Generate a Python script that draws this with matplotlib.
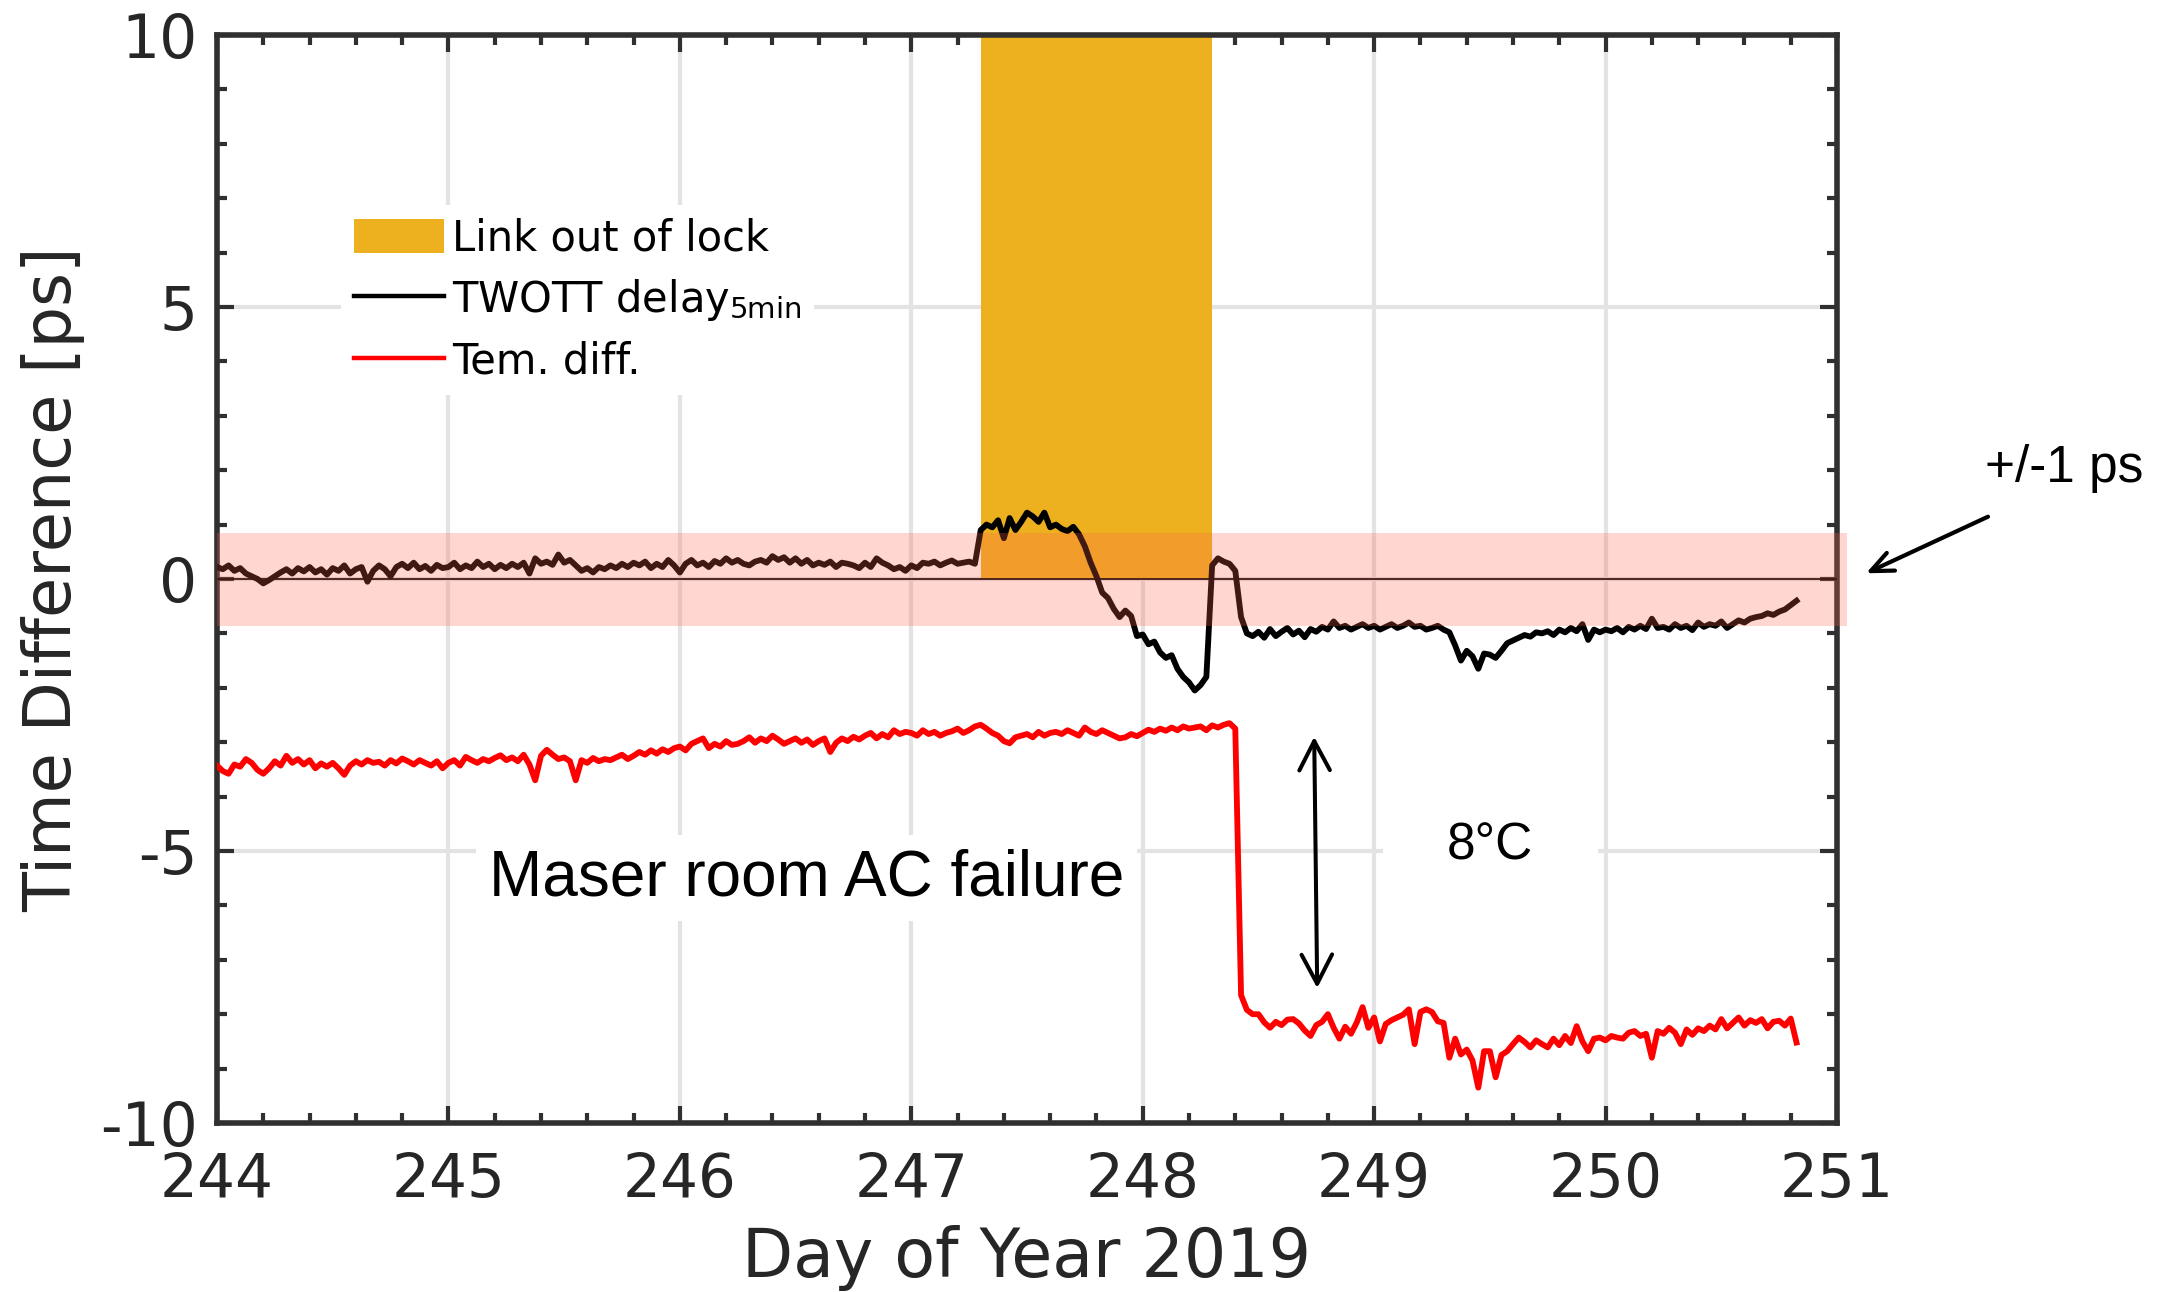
import numpy as np
import matplotlib
matplotlib.use("Agg")
import matplotlib.pyplot as plt
from matplotlib.patches import Rectangle, FancyArrowPatch
from matplotlib.lines import Line2D
from matplotlib.ticker import MultipleLocator, FixedLocator

plt.rcParams['font.family'] = 'DejaVu Sans'
plt.rcParams['axes.unicode_minus'] = False
plt.rcParams['mathtext.fontset'] = 'dejavusans'

# Sampling of the decimated series (day of year, 0.025 d step)
T0 = 244.0
DT = 0.025

# TWOTT delay, 5-min averages [ps]
twott = [
    0.22, 0.18, 0.25, 0.15, 0.20, 0.10, 0.05, 0.00, -0.08, -0.02,
    0.05, 0.12, 0.18, 0.10, 0.20, 0.14, 0.22, 0.12, 0.18, 0.08,
    0.20, 0.15, 0.25, 0.10, 0.18, 0.22, -0.05, 0.15, 0.25, 0.18,
    0.05, 0.22, 0.28, 0.20, 0.30, 0.18, 0.24, 0.15, 0.26, 0.20,
    0.22, 0.30, 0.18, 0.25, 0.20, 0.32, 0.22, 0.28, 0.18, 0.26,
    0.20, 0.28, 0.22, 0.30, 0.10, 0.38, 0.28, 0.32, 0.26, 0.45,
    0.30, 0.35, 0.25, 0.15, 0.20, 0.12, 0.22, 0.18, 0.25, 0.20,
    0.28, 0.22, 0.30, 0.25, 0.32, 0.20, 0.28, 0.22, 0.35, 0.25,
    0.12, 0.28, 0.35, 0.25, 0.30, 0.22, 0.33, 0.28, 0.38, 0.30,
    0.35, 0.28, 0.25, 0.32, 0.35, 0.30, 0.42, 0.35, 0.40, 0.30,
    0.38, 0.28, 0.35, 0.25, 0.30, 0.26, 0.32, 0.22, 0.30, 0.28,
    0.25, 0.20, 0.30, 0.22, 0.38, 0.30, 0.25, 0.18, 0.22, 0.15,
    0.25, 0.20, 0.30, 0.28, 0.32, 0.25, 0.30, 0.34, 0.28, 0.30,
    0.32, 0.28, 0.90, 1.00, 0.95, 1.08, 0.75, 1.12, 0.90, 1.05,
    1.22, 1.15, 1.05, 1.22, 0.95, 1.00, 0.92, 0.88, 0.96, 0.82,
    0.60, 0.30, 0.05, -0.25, -0.35, -0.55, -0.70, -0.58, -0.68, -1.05,
    -1.02, -1.20, -1.15, -1.35, -1.45, -1.40, -1.65, -1.80, -1.90, -2.05,
    -1.95, -1.80, 0.25, 0.38, 0.32, 0.28, 0.15, -0.70, -1.00, -1.05,
    -0.97, -1.08, -0.92, -1.05, -0.97, -0.90, -1.02, -0.95, -1.07, -0.92,
    -0.97, -0.88, -0.93, -0.78, -0.90, -0.86, -0.93, -0.88, -0.83, -0.90,
    -0.86, -0.93, -0.88, -0.83, -0.90, -0.86, -0.80, -0.88, -0.86, -0.93,
    -0.90, -0.86, -0.93, -0.98, -1.22, -1.50, -1.32, -1.42, -1.65, -1.37,
    -1.39, -1.45, -1.32, -1.18, -1.13, -1.08, -1.03, -1.06, -0.98, -1.00,
    -0.96, -1.03, -0.93, -0.98, -0.90, -0.96, -0.83, -1.12, -0.93, -0.98,
    -0.93, -0.96, -0.90, -0.98, -0.88, -0.93, -0.86, -0.92, -0.73, -0.90,
    -0.88, -0.93, -0.83, -0.90, -0.86, -0.94, -0.80, -0.88, -0.83, -0.86,
    -0.78, -0.90, -0.83, -0.76, -0.80, -0.73, -0.70, -0.68, -0.63, -0.66,
    -0.60, -0.56, -0.48, -0.40,
]

# Temperature difference between rooms [degC]
temdiff = [
    -3.43, -3.53, -3.58, -3.41, -3.45, -3.31, -3.38, -3.51, -3.58, -3.48,
    -3.35, -3.43, -3.25, -3.38, -3.31, -3.41, -3.33, -3.48, -3.39, -3.45,
    -3.38, -3.48, -3.60, -3.43, -3.35, -3.41, -3.33, -3.38, -3.36, -3.43,
    -3.33, -3.39, -3.30, -3.35, -3.41, -3.33, -3.38, -3.43, -3.35, -3.48,
    -3.38, -3.33, -3.43, -3.27, -3.33, -3.38, -3.31, -3.35, -3.29, -3.24,
    -3.33, -3.28, -3.35, -3.23, -3.41, -3.70, -3.25, -3.14, -3.23, -3.31,
    -3.28, -3.35, -3.70, -3.33, -3.38, -3.29, -3.35, -3.31, -3.33, -3.28,
    -3.23, -3.31, -3.25, -3.18, -3.23, -3.15, -3.21, -3.13, -3.18, -3.11,
    -3.08, -3.15, -3.03, -2.98, -2.93, -3.11, -3.03, -3.08, -2.98, -3.05,
    -3.03, -2.98, -2.91, -3.01, -2.93, -2.98, -2.88, -2.95, -3.03, -2.98,
    -2.93, -3.01, -2.95, -3.05, -2.98, -2.93, -3.18, -3.01, -2.93, -2.98,
    -2.90, -2.95, -2.88, -2.83, -2.93, -2.85, -2.91, -2.78, -2.85, -2.81,
    -2.83, -2.88, -2.78, -2.85, -2.81, -2.88, -2.83, -2.80, -2.75, -2.83,
    -2.78, -2.71, -2.68, -2.75, -2.83, -2.88, -2.98, -3.02, -2.91, -2.88,
    -2.85, -2.91, -2.81, -2.88, -2.83, -2.81, -2.85, -2.78, -2.83, -2.88,
    -2.73, -2.81, -2.85, -2.78, -2.83, -2.88, -2.93, -2.91, -2.85, -2.89,
    -2.83, -2.77, -2.81, -2.75, -2.79, -2.73, -2.78, -2.71, -2.75, -2.73,
    -2.71, -2.78, -2.69, -2.73, -2.68, -2.65, -2.75, -7.65, -7.92, -8.00,
    -8.00, -8.15, -8.25, -8.14, -8.20, -8.10, -8.09, -8.17, -8.30, -8.40,
    -8.20, -8.14, -8.00, -8.25, -8.45, -8.23, -8.36, -8.15, -7.87, -8.25,
    -8.06, -8.50, -8.18, -8.11, -8.06, -8.01, -7.91, -8.55, -7.96, -7.91,
    -7.96, -8.13, -8.16, -8.80, -8.45, -8.74, -8.65, -8.85, -9.35, -8.68,
    -8.68, -9.16, -8.75, -8.68, -8.55, -8.43, -8.51, -8.61, -8.48, -8.55,
    -8.61, -8.45, -8.57, -8.40, -8.53, -8.22, -8.50, -8.68, -8.45, -8.43,
    -8.48, -8.40, -8.43, -8.45, -8.34, -8.31, -8.40, -8.36, -8.80, -8.31,
    -8.36, -8.25, -8.34, -8.55, -8.28, -8.38, -8.26, -8.31, -8.21, -8.28,
    -8.09, -8.26, -8.16, -8.06, -8.21, -8.11, -8.16, -8.09, -8.26, -8.14,
    -8.12, -8.21, -8.08, -8.52,
]

days = T0 + DT * np.arange(len(twott))

# Link out-of-lock interval and the +/-1 ps tolerance band
lock_start, lock_end, lock_top = 247.3, 248.3, 10.0
band_lo, band_hi = -0.86, 0.84

xticks = [244, 245, 246, 247, 248, 249, 250, 251]
yticks = [-10, -5, 0, 5, 10]
yticklabels = ['-10', '-5', '0', '5', '10']

legend_labels = ['Link out of lock', r'TWOTT delay$_{\mathregular{5min}}$', 'Tem. diff.']

W, H = 2171, 1292
fig = plt.figure(figsize=(W / 100, H / 100), dpi=100)
ax = fig.add_axes([217 / W, 1 - 1123 / H, 1620 / W, 1088 / H])
ax.set_xlim(244, 251)
ax.set_ylim(-10, 10)

ax.set_axisbelow(True)
ax.grid(True, which='major', color='#e3e3e3', lw=3)

ax.bar(lock_start, lock_top, width=lock_end - lock_start, align='edge',
       color='#EDB120', edgecolor='none', zorder=1.5)
ax.plot(days, twott, color='black', lw=4.2, zorder=3)
ax.plot(days, temdiff, color='#ff0000', lw=4.2, zorder=3)
ax.axhline(0, color='black', lw=1.3, zorder=3)

band = Rectangle((244, band_lo), 251.045 - 244, band_hi - band_lo,
                 facecolor=(1.0, 0.39, 0.30), alpha=0.26, edgecolor='none',
                 clip_on=False, zorder=4)
ax.add_patch(band)

spine_col = '#303030'
for s in ax.spines.values():
    s.set_linewidth(4)
    s.set_color(spine_col)

ax.xaxis.set_major_locator(FixedLocator(xticks))
ax.xaxis.set_minor_locator(MultipleLocator(0.2))
ax.yaxis.set_major_locator(FixedLocator(yticks))
ax.yaxis.set_minor_locator(MultipleLocator(1))
ax.set_yticklabels(yticklabels)
ax.tick_params(which='both', direction='in', top=True, right=True,
               color=spine_col, width=3)
ax.tick_params(which='major', length=12, labelsize=43, labelcolor='#262626')
ax.tick_params(axis='x', which='major', pad=20)
ax.tick_params(axis='y', which='major', pad=14)
ax.tick_params(which='minor', length=7)

fig.text(1027 / W, 1 - 1277 / H, 'Day of Year 2019', ha='center', va='baseline',
         fontsize=48, color='#262626')
fig.text(71 / W, 1 - 579 / H, 'Time Difference [ps]', ha='center', va='baseline',
         rotation=90, rotation_mode='anchor', fontsize=47, color='#262626')

handles = [Rectangle((0, 0), 1, 1, facecolor='#EDB120', edgecolor='none'),
           Line2D([], [], color='black', lw=3.2),
           Line2D([], [], color='#ff0000', lw=3.2)]
leg = ax.legend(handles, legend_labels, loc='upper left',
                bbox_to_anchor=(341 / W, 1 - 205 / H), bbox_transform=fig.transFigure,
                fontsize=30, frameon=True, fancybox=False, framealpha=1,
                edgecolor='none', facecolor='white', handlelength=2.17,
                handleheight=0.9, handletextpad=0.2, labelspacing=0.42,
                borderpad=0.3, borderaxespad=0)
leg.set_zorder(5)

ax.text(245.174, -5.81, 'Maser room AC failure', fontsize=46,
        family='Liberation Sans', color='black', ha='left', va='baseline',
        bbox=dict(boxstyle='square,pad=0.2', fc='white', ec='none'), zorder=5)
ax.text(249.315, -5.156, '8°C', fontsize=37, family='Liberation Sans',
        color='black', ha='left', va='baseline',
        bbox=dict(boxstyle='square,pad=1.25', fc='white', ec='none'), zorder=2)

ax.add_patch(FancyArrowPatch((248.741, -2.90), (248.754, -7.52),
                             arrowstyle='<->,head_length=21,head_width=11',
                             mutation_scale=1, lw=2.9, color='black',
                             shrinkA=0, shrinkB=0, zorder=5))

fig.text(1985 / W, 1 - 482 / H, '+/-1 ps', fontsize=37, family='Liberation Sans',
         ha='left', va='baseline', color='black')
fig.add_artist(FancyArrowPatch((1988 / W, 1 - 516.7 / H), (1866 / W, 1 - 573.3 / H),
                               transform=fig.transFigure,
                               arrowstyle='->,head_length=16,head_width=7',
                               mutation_scale=1, lw=3, color='black',
                               shrinkA=0, shrinkB=0))

fig.savefig('out.png', dpi=100)
